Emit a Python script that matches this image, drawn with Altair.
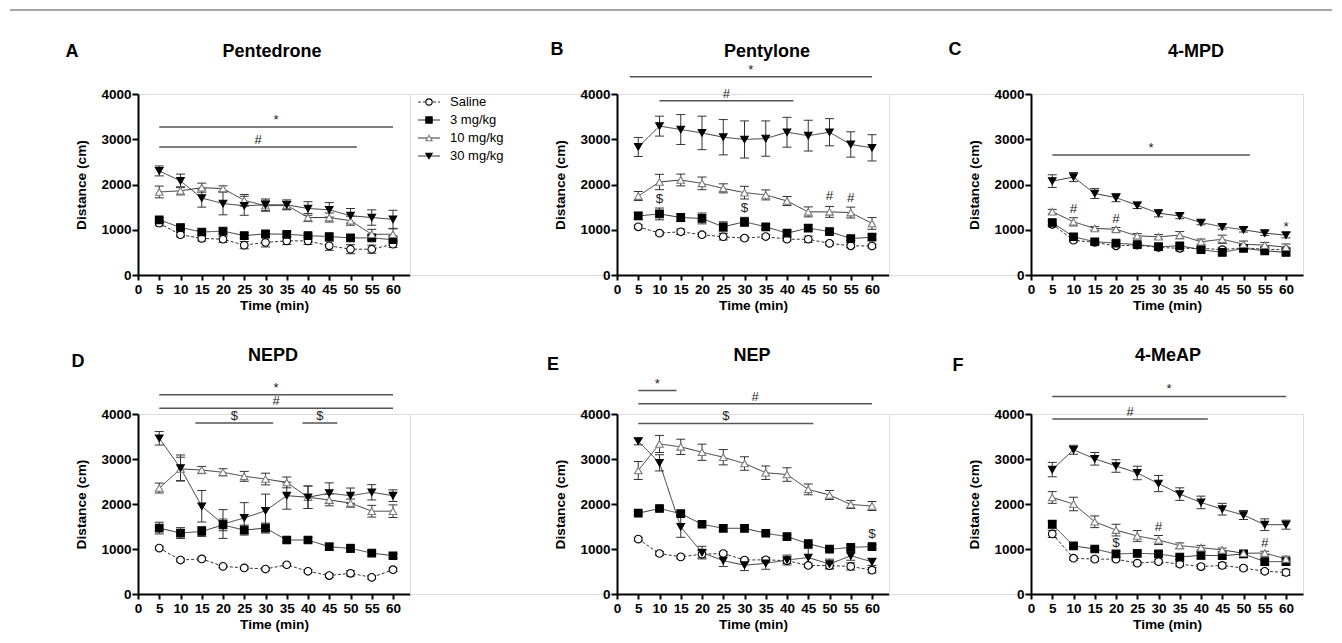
import altair as alt
import pandas as pd

times = [5, 10, 15, 20, 25, 30, 35, 40, 45, 50, 55, 60]
x_ticks = [0, 5, 10, 15, 20, 25, 30, 35, 40, 45, 50, 55, 60]
y_ticks = [0, 1000, 2000, 3000, 4000]
series_names = ["Saline", "3 mg/kg", "10 mg/kg", "30 mg/kg"]
series_shapes = ["circle", "square", "triangle-up", "triangle-down"]
series_fills = ["white", "black", "white", "black"]
series_strokes = ["black", "black", "#7a7a7a", "black"]
series_dashes = [[3, 2], [1, 0], [1, 0], [1, 0]]

# ---- A: Pentedrone
a_sal = [1145, 890, 810, 790, 660, 720, 755, 755, 645, 570, 570, 680]
a_sal_e = [60, 50, 60, 70, 80, 100, 80, 80, 100, 100, 90, 70]
a_m3 = [1220, 1050, 950, 970, 870, 910, 900, 870, 850, 820, 820, 780]
a_m3_e = [50, 50, 40, 50, 60, 50, 50, 50, 50, 40, 50, 50]
a_m10 = [1835, 1860, 1930, 1910, 1650, 1530, 1540, 1270, 1270, 1200, 900, 900]
a_m10_e = [130, 90, 100, 60, 130, 120, 90, 90, 100, 100, 110, 120]
a_m30 = [2300, 2080, 1700, 1580, 1530, 1550, 1550, 1470, 1440, 1310, 1270, 1230]
a_m30_e = [110, 150, 200, 250, 210, 130, 110, 150, 160, 160, 170, 200]
a_bar_x1 = [5, 5]
a_bar_x2 = [60, 51.5]
a_bar_y = [3270, 2830]
a_bar_lab = ["*", "#"]
a_pt_x = []
a_pt_y = []
a_pt_lab = []

# ---- B: Pentylone
b_sal = [1065, 925, 955, 890, 845, 815, 850, 790, 790, 700, 645, 640]
b_sal_e = [40, 40, 60, 40, 70, 40, 40, 40, 70, 40, 40, 40]
b_m3 = [1305, 1350, 1270, 1250, 1065, 1175, 1065, 925, 1035, 960, 805, 835]
b_m3_e = [80, 130, 90, 120, 110, 100, 60, 60, 70, 50, 40, 60]
b_m10 = [1745, 2055, 2100, 2025, 1915, 1820, 1770, 1635, 1395, 1395, 1380, 1140]
b_m10_e = [100, 170, 130, 140, 100, 140, 110, 100, 110, 120, 120, 130]
b_m30 = [2830, 3290, 3215, 3140, 3045, 2995, 3015, 3155, 3080, 3155, 2885, 2810]
b_m30_e = [210, 220, 330, 370, 390, 410, 390, 330, 340, 300, 280, 290]
b_bar_x1 = [3, 10]
b_bar_x2 = [60, 41.5]
b_bar_y = [4380, 3850]
b_bar_lab = ["*", "#"]
b_pt_x = [10, 30, 50, 55]
b_pt_y = [1670, 1475, 1745, 1700]
b_pt_lab = ["$", "$", "#", "#"]

# ---- C: 4-MPD
c_sal = [1120, 770, 720, 645, 660, 610, 590, 590, 560, 600, 570, 555]
c_sal_e = [60, 40, 40, 40, 40, 50, 60, 40, 50, 50, 50, 50]
c_m3 = [1160, 845, 735, 705, 670, 625, 645, 560, 500, 590, 535, 500]
c_m3_e = [60, 60, 60, 50, 50, 50, 50, 50, 50, 60, 50, 50]
c_m10 = [1400, 1175, 1030, 1010, 865, 845, 880, 735, 790, 680, 660, 615]
c_m10_e = [50, 90, 40, 40, 50, 50, 80, 60, 90, 70, 60, 70]
c_m30 = [2075, 2165, 1800, 1710, 1540, 1365, 1305, 1160, 1065, 1000, 925, 880]
c_m30_e = [140, 100, 110, 90, 70, 80, 60, 50, 50, 50, 50, 60]
c_bar_x1 = [5]
c_bar_x2 = [51.5]
c_bar_y = [2650]
c_bar_lab = ["*"]
c_pt_x = [10, 20, 60]
c_pt_y = [1450, 1230, 1055]
c_pt_lab = ["#", "#", "*"]

# ---- D: NEPD
d_sal = [1020, 755, 780, 615, 580, 555, 650, 505, 410, 460, 370, 540]
d_sal_e = [40, 40, 40, 30, 30, 30, 30, 30, 40, 60, 40, 40]
d_m3 = [1465, 1355, 1390, 1535, 1420, 1465, 1200, 1200, 1050, 1015, 910, 850]
d_m3_e = [130, 120, 110, 130, 110, 110, 60, 60, 80, 90, 60, 50]
d_m10 = [2355, 2780, 2755, 2705, 2615, 2555, 2480, 2150, 2090, 2020, 1840, 1840]
d_m10_e = [110, 260, 80, 80, 110, 130, 120, 250, 130, 90, 130, 140]
d_m30 = [3460, 2800, 1950, 1555, 1690, 1850, 2185, 2150, 2240, 2185, 2260, 2185]
d_m30_e = [150, 290, 350, 320, 340, 370, 300, 250, 230, 170, 170, 130]
d_bar_x1 = [5, 5, 13.5, 38.7]
d_bar_x2 = [60, 60, 31.8, 46.9]
d_bar_y = [4430, 4130, 3800, 3800]
d_bar_lab = ["*", "#", "$", "$"]
d_pt_x = []
d_pt_y = []
d_pt_lab = []

# ---- E: NEP
e_sal = [1220, 900, 825, 885, 900, 755, 760, 740, 635, 630, 613, 530]
e_sal_e = [40, 40, 40, 80, 40, 40, 40, 60, 40, 60, 80, 60]
e_m3 = [1795, 1900, 1785, 1550, 1460, 1460, 1350, 1275, 1120, 995, 1035, 1055]
e_m3_e = [40, 40, 40, 40, 60, 60, 40, 40, 40, 40, 50, 40]
e_m10 = [2745, 3335, 3270, 3150, 3040, 2900, 2695, 2655, 2325, 2200, 1990, 1955]
e_m10_e = [200, 190, 170, 180, 170, 150, 150, 150, 120, 100, 90, 100]
e_m30 = [3395, 2915, 1490, 920, 740, 640, 680, 755, 810, 665, 850, 715]
e_m30_e = [80, 180, 230, 140, 130, 120, 130, 110, 200, 110, 100, 80]
e_bar_x1 = [5, 5, 5]
e_bar_x2 = [14, 60, 46.2]
e_bar_y = [4520, 4230, 3790]
e_bar_lab = ["*", "#", "$"]
e_pt_x = [60]
e_pt_y = [1330]
e_pt_lab = ["$"]

# ---- F: 4-MeAP
f_sal = [1335, 795, 775, 775, 685, 720, 665, 610, 635, 575, 505, 480]
f_sal_e = [80, 40, 40, 40, 40, 40, 50, 50, 60, 40, 40, 70]
f_m3 = [1550, 1070, 1000, 890, 905, 890, 820, 860, 850, 890, 720, 720]
f_m3_e = [90, 40, 40, 60, 50, 50, 50, 80, 60, 80, 60, 60]
f_m10 = [2145, 2000, 1605, 1420, 1290, 1200, 1075, 1030, 980, 905, 910, 780]
f_m10_e = [130, 150, 130, 130, 120, 100, 60, 50, 40, 40, 40, 60]
f_m30 = [2765, 3205, 3005, 2845, 2690, 2455, 2220, 2035, 1885, 1755, 1540, 1540]
f_m30_e = [160, 100, 140, 140, 150, 180, 140, 140, 130, 100, 130, 100]
f_bar_x1 = [5, 5]
f_bar_x2 = [60, 41.6]
f_bar_y = [4390, 3890]
f_bar_lab = ["*", "#"]
f_pt_x = [20, 30, 55]
f_pt_y = [1130, 1500, 1130]
f_pt_lab = ["$", "#", "#"]

FONT = "Liberation Sans"
PW = 272


def axis_x():
    return alt.Axis(values=x_ticks, title="Time (min)", grid=False, labelFont=FONT,
                    labelFontWeight="bold", labelFontSize=13.5, labelColor="black",
                    titleFont=FONT, titleFontWeight="bold", titleFontSize=13.7, titleColor="black",
                    domainColor="black", domainWidth=2, tickColor="black", tickWidth=2,
                    tickSize=5, labelPadding=2, titlePadding=3, labelFlush=False,
                    labelOverlap=False, format="d")


def axis_y():
    return alt.Axis(values=y_ticks, title="Distance (cm)", grid=False, labelFont=FONT,
                    labelFontWeight="bold", labelFontSize=13.5, labelColor="black",
                    titleFont=FONT, titleFontWeight="bold", titleFontSize=13.7, titleColor="black",
                    domainColor="black", domainWidth=2, tickColor="black", tickWidth=2,
                    tickSize=6, labelPadding=1, titlePadding=12, labelFlush=False, format="d")


def make_panel(title, letter, vals, errs, bx1, bx2, by, blab, px, py, plab,
               height, title_x, title_y, letter_x, letter_y, frame=False):
    rows = []
    for name, v, e in zip(series_names, vals, errs):
        for t, m, s in zip(times, v, e):
            rows.append({"time": t, "mean": m, "lo": m - s, "hi": m + s, "series": name})
    df = pd.DataFrame(rows)
    xs = alt.Scale(domain=[0, 64], nice=False, zero=False)
    ys = alt.Scale(domain=[0, 4000], nice=False)
    X = alt.X("time:Q", scale=xs, axis=axis_x())
    base = alt.Chart(df)

    err = base.mark_rule(color="#333333", strokeWidth=1).encode(
        x=X, y=alt.Y("lo:Q", scale=ys, axis=axis_y()), y2="hi:Q")
    cap_hi = base.mark_tick(orient="horizontal", size=9, thickness=1, color="#333333",
                            opacity=1).encode(x=X, y=alt.Y("hi:Q", scale=ys, axis=axis_y()))
    cap_lo = base.mark_tick(orient="horizontal", size=9, thickness=1, color="#333333",
                            opacity=1).encode(x=X, y=alt.Y("lo:Q", scale=ys, axis=axis_y()))
    line = base.mark_line(strokeWidth=1, color="#333333").encode(
        x=X, y=alt.Y("mean:Q", scale=ys, axis=axis_y()),
        detail="series:N",
        strokeDash=alt.StrokeDash("series:N", scale=alt.Scale(domain=series_names, range=series_dashes),
                                  legend=None))
    pts = base.mark_point(filled=True, size=58, strokeWidth=1.1, opacity=1).encode(
        x=X, y=alt.Y("mean:Q", scale=ys, axis=axis_y()),
        shape=alt.Shape("series:N", scale=alt.Scale(domain=series_names, range=series_shapes), legend=None),
        fill=alt.Fill("series:N", scale=alt.Scale(domain=series_names, range=series_fills), legend=None),
        stroke=alt.Stroke("series:N", scale=alt.Scale(domain=series_names, range=series_strokes), legend=None))

    layers = [err, cap_hi, cap_lo, line, pts]

    bars = pd.DataFrame({"x1": bx1, "x2": bx2, "y": by, "lab": blab})
    bars["xm"] = (bars["x1"] + bars["x2"]) / 2
    layers.append(alt.Chart(bars).mark_rule(color="#555555", strokeWidth=1.5).encode(
        x=alt.X("x1:Q", scale=xs, axis=axis_x()), x2="x2:Q", y=alt.Y("y:Q", scale=ys, axis=axis_y())))
    layers.append(alt.Chart(bars).mark_text(fontSize=13, color="#222222", dy=-7, font=FONT).encode(
        x=alt.X("xm:Q", scale=xs, axis=axis_x()), y=alt.Y("y:Q", scale=ys, axis=axis_y()), text="lab:N"))
    if px:
        pdf = pd.DataFrame({"x": px, "y": py, "lab": plab})
        layers.append(alt.Chart(pdf).mark_text(fontSize=13.5, color="#222222", font=FONT).encode(
            x=alt.X("x:Q", scale=xs, axis=axis_x()), y=alt.Y("y:Q", scale=ys, axis=axis_y()), text="lab:N"))

    tdf = pd.DataFrame({"label": [title]})
    layers.append(alt.Chart(tdf).mark_text(fontSize=18, fontWeight="bold", font=FONT, color="black",
                                           align="center", baseline="middle").encode(
        x=alt.value(title_x), y=alt.value(title_y), text="label:N"))
    ldf = pd.DataFrame({"label": [letter]})
    layers.append(alt.Chart(ldf).mark_text(fontSize=18, fontWeight="bold", font=FONT, color="black",
                                           align="center", baseline="middle").encode(
        x=alt.value(letter_x), y=alt.value(letter_y), text="label:N"))
    if frame:
        # thin figure border along the top edge
        layers.append(alt.Chart(ldf).mark_rule(color="#8a8a8a", strokeWidth=1.5).encode(
            x=alt.value(-128), x2=alt.value(1194), y=alt.value(-84)))
    return alt.layer(*layers).properties(width=PW, height=height)


pA = make_panel("Pentedrone", "A", [a_sal, a_m3, a_m10, a_m30], [a_sal_e, a_m3_e, a_m10_e, a_m30_e],
                a_bar_x1, a_bar_x2, a_bar_y, a_bar_lab, a_pt_x, a_pt_y, a_pt_lab, 181, 134, -42, -66, -42,
                frame=True)
pB = make_panel("Pentylone", "B", [b_sal, b_m3, b_m10, b_m30], [b_sal_e, b_m3_e, b_m10_e, b_m30_e],
                b_bar_x1, b_bar_x2, b_bar_y, b_bar_lab, b_pt_x, b_pt_y, b_pt_lab, 181, 150, -42, -60, -44)
pC = make_panel("4-MPD", "C", [c_sal, c_m3, c_m10, c_m30], [c_sal_e, c_m3_e, c_m10_e, c_m30_e],
                c_bar_x1, c_bar_x2, c_bar_y, c_bar_lab, c_pt_x, c_pt_y, c_pt_lab, 181, 165, -42, -76, -44)
pD = make_panel("NEPD", "D", [d_sal, d_m3, d_m10, d_m30], [d_sal_e, d_m3_e, d_m10_e, d_m30_e],
                d_bar_x1, d_bar_x2, d_bar_y, d_bar_lab, d_pt_x, d_pt_y, d_pt_lab, 180, 135, -58, -60, -52)
pE = make_panel("NEP", "E", [e_sal, e_m3, e_m10, e_m30], [e_sal_e, e_m3_e, e_m10_e, e_m30_e],
                e_bar_x1, e_bar_x2, e_bar_y, e_bar_lab, e_pt_x, e_pt_y, e_pt_lab, 180, 135, -58, -64, -49)
pF = make_panel("4-MeAP", "F", [f_sal, f_m3, f_m10, f_m30], [f_sal_e, f_m3_e, f_m10_e, f_m30_e],
                f_bar_x1, f_bar_x2, f_bar_y, f_bar_lab, f_pt_x, f_pt_y, f_pt_lab, 180, 137, -58, -73, -48)

# legend (sits in the gap between panels A and B)
leg_df = pd.DataFrame({"series": series_names})
LY = alt.Y("series:N", scale=alt.Scale(domain=series_names, range=[-1, 71], padding=0), axis=None)
leg_rule = alt.Chart(leg_df).mark_rule(strokeWidth=1, color="#333333").encode(
    x=alt.value(8), x2=alt.value(30), y=LY,
    strokeDash=alt.StrokeDash("series:N", scale=alt.Scale(domain=series_names, range=series_dashes), legend=None))
leg_pts = alt.Chart(leg_df).mark_point(filled=True, size=40, strokeWidth=1.1, opacity=1).encode(
    x=alt.value(19), y=LY,
    shape=alt.Shape("series:N", scale=alt.Scale(domain=series_names, range=series_shapes), legend=None),
    fill=alt.Fill("series:N", scale=alt.Scale(domain=series_names, range=series_fills), legend=None),
    stroke=alt.Stroke("series:N", scale=alt.Scale(domain=series_names, range=series_strokes), legend=None))
leg_txt = alt.Chart(leg_df).mark_text(align="left", baseline="middle", fontSize=13, font=FONT,
                                      color="black").encode(x=alt.value(40), y=LY, text="series:N")
legend = alt.layer(leg_rule, leg_pts, leg_txt).properties(width=207, height=181)

spacer_df = pd.DataFrame({"v": [0]})


def spacer(w, h):
    return alt.Chart(spacer_df).mark_point(opacity=0).encode(
        x=alt.value(0), y=alt.value(0)).properties(width=w, height=h)


chart = alt.concat(
    pA, legend, pB, spacer(142, 181), pC,
    pD, spacer(207, 180), pE, spacer(142, 180), pF,
    columns=5, spacing={"row": 139, "column": 0}, bounds="flush"
).resolve_scale(x="independent", y="independent").properties(
    padding={"left": 0, "top": 0, "right": 0, "bottom": 0}
).configure_view(strokeWidth=0).configure(font=FONT, background="white")

chart.save("out.html", embed_options={"renderer": "svg", "actions": False})
